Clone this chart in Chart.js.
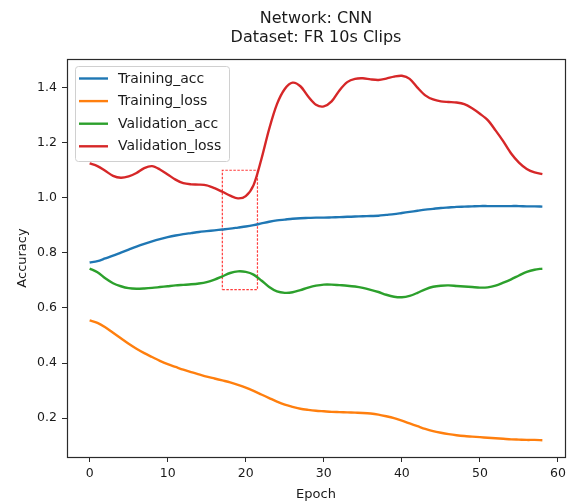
<!DOCTYPE html>
<html>
<head>
<meta charset="utf-8">
<script src="https://cdn.jsdelivr.net/npm/chart.js@4"></script>
<style>
  html, body { margin: 0; padding: 0; background: #fff; }
  #wrap { width: 570px; height: 504px; position: relative; }
</style>
</head>
<body>
<div id="wrap"><canvas id="c" width="570" height="504"></canvas></div>
<script>
const titleLines = ["Network: CNN", "Dataset: FR 10s Clips"];
const xLabel = "Epoch";
const yLabel = "Accuracy";
const xTicks = [0, 10, 20, 30, 40, 50, 60];
const yTicks = [0.2, 0.4, 0.6, 0.8, 1.0, 1.2, 1.4];
const yTickLabels = ["0.2", "0.4", "0.6", "0.8", "1.0", "1.2", "1.4"];

const epochs = [0,1,2,3,4,5,6,7,8,9,10,11,12,13,14,15,16,17,18,19,20,21,22,23,24,25,26,27,28,29,30,31,32,33,34,35,36,37,38,39,40,41,42,43,44,45,46,47,48,49,50,51,52,53,54,55,56,57,58];

const trainingAcc = [0.765,0.770,0.780,0.790,0.801,0.812,0.823,0.833,0.842,0.850,0.857,0.863,0.868,0.872,0.876,0.879,0.882,0.885,0.888,0.892,0.896,0.901,0.907,0.913,0.918,0.921,0.924,0.926,0.927,0.928,0.928,0.929,0.930,0.931,0.932,0.933,0.934,0.935,0.938,0.941,0.945,0.949,0.953,0.957,0.960,0.963,0.965,0.967,0.968,0.969,0.970,0.970,0.970,0.970,0.970,0.970,0.969,0.969,0.968];

const trainingLoss = [0.555,0.546,0.530,0.510,0.490,0.470,0.452,0.436,0.422,0.408,0.396,0.386,0.376,0.367,0.359,0.351,0.344,0.337,0.330,0.321,0.311,0.299,0.286,0.273,0.260,0.249,0.241,0.234,0.230,0.227,0.225,0.223,0.222,0.221,0.220,0.219,0.217,0.213,0.207,0.200,0.191,0.181,0.171,0.161,0.153,0.147,0.142,0.138,0.135,0.133,0.131,0.129,0.127,0.125,0.123,0.122,0.121,0.121,0.120];

const validationAcc = [0.743,0.730,0.708,0.690,0.679,0.672,0.670,0.671,0.673,0.676,0.679,0.682,0.684,0.686,0.689,0.694,0.703,0.715,0.727,0.733,0.731,0.721,0.700,0.676,0.660,0.655,0.657,0.665,0.674,0.681,0.685,0.685,0.683,0.681,0.678,0.673,0.666,0.658,0.648,0.641,0.639,0.644,0.655,0.668,0.677,0.681,0.682,0.680,0.678,0.676,0.674,0.675,0.681,0.692,0.704,0.718,0.731,0.739,0.743];

const validationLoss = [1.125,1.115,1.098,1.080,1.073,1.078,1.090,1.108,1.115,1.103,1.085,1.066,1.053,1.049,1.048,1.045,1.035,1.022,1.008,0.998,1.006,1.046,1.140,1.250,1.340,1.395,1.418,1.405,1.368,1.338,1.332,1.350,1.390,1.420,1.432,1.434,1.430,1.428,1.433,1.440,1.443,1.432,1.400,1.372,1.357,1.350,1.348,1.346,1.340,1.325,1.305,1.282,1.245,1.205,1.161,1.128,1.105,1.092,1.086];

// highlighted region (dashed box)
const boxX = [17, 21.5, 21.5, 17, 17];
const boxY = [0.667, 0.667, 1.1, 1.1, 0.667];

const seriesNames = ["Training_acc", "Training_loss", "Validation_acc", "Validation_loss"];
const seriesColors = ["#1f77b4", "#ff7f0e", "#2ca02c", "#d62728"];
const seriesValues = [trainingAcc, trainingLoss, validationAcc, validationLoss];

const FONT = "'DejaVu Sans', sans-serif";
const TEXT = "#1a1a1a";
const AXIS = "#2a2a2a";

const datasets = seriesValues.map((vals, i) => ({
  label: seriesNames[i],
  data: epochs.map((e, k) => ({ x: e, y: vals[k] })),
  borderColor: seriesColors[i],
  backgroundColor: seriesColors[i],
  borderWidth: 2.4,
  pointRadius: 0,
  tension: 0.3,
  fill: false
}));
datasets.push({
  label: "__box",
  data: boxX.map((x, k) => ({ x: x, y: boxY[k] })),
  borderColor: "#ff3b3b",
  borderWidth: 1.2,
  borderDash: [2.5, 1.5],
  pointRadius: 0,
  tension: 0,
  fill: false
});

const decorPlugin = {
  id: "decor",
  afterDraw(chart) {
    const ctx = chart.ctx;
    const a = chart.chartArea;
    ctx.save();
    // spines
    ctx.strokeStyle = AXIS;
    ctx.lineWidth = 1.2;
    ctx.strokeRect(Math.round(a.left) + 0.5, Math.round(a.top) + 0.5, Math.round(a.right - a.left), Math.round(a.bottom - a.top));
    // title
    ctx.fillStyle = TEXT;
    ctx.textAlign = "center";
    ctx.textBaseline = "middle";
    ctx.font = "16px " + FONT;
    const cx = (a.left + a.right) / 2;
    ctx.fillText(titleLines[0], cx, 19);
    ctx.fillText(titleLines[1], cx, 38);
    // axis labels
    ctx.font = "13px " + FONT;
    ctx.fillText(xLabel, cx, 495);
    ctx.save();
    ctx.translate(23, (a.top + a.bottom) / 2);
    ctx.rotate(-Math.PI / 2);
    ctx.fillText(yLabel, 0, 0);
    ctx.restore();
    // legend
    const lx = 75, ly = 66, lw = 154, lh = 95;
    ctx.fillStyle = "rgba(255,255,255,0.85)";
    ctx.strokeStyle = "#d0d0d0";
    ctx.lineWidth = 1;
    ctx.beginPath();
    if (ctx.roundRect) ctx.roundRect(lx + 0.5, ly + 0.5, lw, lh, 3); else ctx.rect(lx + 0.5, ly + 0.5, lw, lh);
    ctx.fill();
    ctx.stroke();
    ctx.font = "14px " + FONT;
    ctx.textAlign = "left";
    for (let i = 0; i < seriesNames.length; i++) {
      const y = 78.5 + i * 22.6;
      ctx.strokeStyle = seriesColors[i];
      ctx.lineWidth = 2.4;
      ctx.beginPath();
      ctx.moveTo(79, y);
      ctx.lineTo(108, y);
      ctx.stroke();
      ctx.fillStyle = TEXT;
      ctx.fillText(seriesNames[i], 118, y + 0.5);
    }
    ctx.restore();
  }
};

new Chart(document.getElementById("c"), {
  type: "line",
  data: { datasets },
  options: {
    responsive: false,
    animation: false,
    events: [],
    layout: { padding: { left: 0, right: 5, top: 59, bottom: 0 } },
    plugins: {
      legend: { display: false },
      title: { display: false },
      tooltip: { enabled: false }
    },
    scales: {
      x: {
        type: "linear",
        min: -2.9,
        max: 60.9,
        afterBuildTicks: s => { s.ticks = xTicks.map(v => ({ value: v })); },
        afterFit: s => { s.height = 47; },
        grid: { display: true, drawOnChartArea: false, drawTicks: true, tickLength: 5, color: AXIS, lineWidth: 1 },
        border: { display: true, color: AXIS, width: 1 },
        ticks: { color: TEXT, font: { family: FONT, size: 12.5 }, padding: 4, maxRotation: 0, autoSkip: false, callback: v => String(v) }
      },
      y: {
        type: "linear",
        min: 0.059,
        max: 1.504,
        afterBuildTicks: s => { s.ticks = yTicks.map(v => ({ value: v })); },
        afterFit: s => { s.width = 67; },
        grid: { display: true, drawOnChartArea: false, drawTicks: true, tickLength: 5, color: AXIS, lineWidth: 1 },
        border: { display: true, color: AXIS, width: 1 },
        ticks: { color: TEXT, font: { family: FONT, size: 12.5 }, padding: 5, autoSkip: false, callback: (v) => { const i = yTicks.findIndex(t => Math.abs(t - v) < 1e-9); return i >= 0 ? yTickLabels[i] : ""; } }
      }
    }
  },
  plugins: [decorPlugin]
});
</script>
</body>
</html>
